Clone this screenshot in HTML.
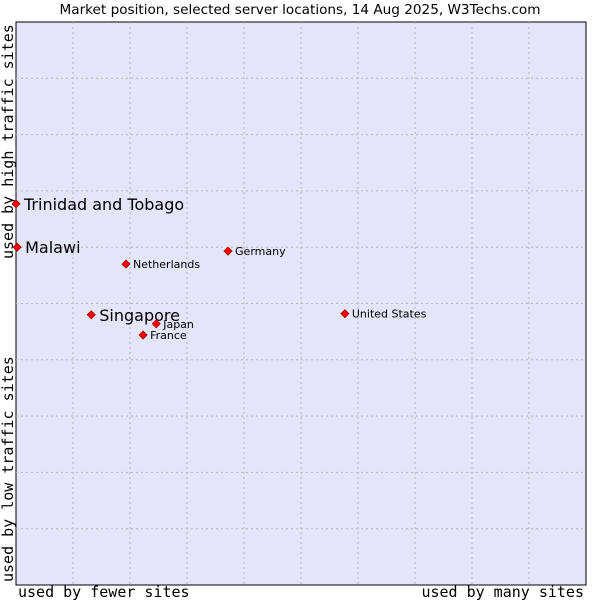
<!DOCTYPE html>
<html><head><meta charset="utf-8"><style>
body{margin:0;background:#fff;width:600px;height:600px;overflow:hidden}
svg{display:block}
</style></head><body>
<svg id="chart" width="600" height="600">
<text x="300" y="14" text-anchor="middle" font-family="DejaVu Sans, sans-serif" font-size="13.6" fill="#000">Market position, selected server locations, 14 Aug 2025, W3Techs.com</text>
<rect x="16" y="22" width="570" height="563" fill="#e3e5f8" stroke="#000" stroke-width="1"/>
<g id="grid"></g>
<text x="18" y="597" font-family="DejaVu Sans Mono, monospace" font-size="15">used by fewer sites</text>
<text x="584" y="597" text-anchor="end" font-family="DejaVu Sans Mono, monospace" font-size="15">used by many sites</text>
<text transform="translate(13,582) rotate(-90)" font-family="DejaVu Sans Mono, monospace" font-size="15">used by low traffic sites</text>
<text transform="translate(13,259) rotate(-90)" font-family="DejaVu Sans Mono, monospace" font-size="15">used by high traffic sites</text>
<g id="points"></g>
</svg>
<script>
const countries = ["Trinidad and Tobago","Malawi","Netherlands","Germany","Singapore","Japan","France","United States"];
const siteShare = [0, 0.2, 19.3, 37.2, 13.2, 24.6, 22.3, 57.7];
const trafficScore = [67.7, 60.0, 57.0, 59.3, 48.0, 46.4, 44.4, 48.2];
const highlighted = [true, true, false, false, true, false, false, false];
const NS = "http://www.w3.org/2000/svg";
const L = 16, T = 22, W = 570, H = 563;
const xs = v => L + v / 100 * W;
const ys = v => T + H - v / 100 * H;
const grid = document.getElementById('grid');
for (let i = 1; i < 10; i++) {
  const vl = document.createElementNS(NS, 'line');
  
  
  vl.setAttribute('x1', xs(i * 10)); vl.setAttribute('x2', xs(i * 10));
  vl.setAttribute('y1', T); vl.setAttribute('y2', T + H);
  vl.setAttribute('stroke', '#b8b8b8'); vl.setAttribute('stroke-dasharray', '2,3');
  grid.appendChild(vl);
  const hl = document.createElementNS(NS, 'line');
  
  
  hl.setAttribute('y1', ys(i * 10)); hl.setAttribute('y2', ys(i * 10));
  hl.setAttribute('x1', L); hl.setAttribute('x2', L + W);
  hl.setAttribute('stroke', '#b8b8b8'); hl.setAttribute('stroke-dasharray', '2,3');
  grid.appendChild(hl);
}
const pts = document.getElementById('points');
countries.forEach((c, i) => {
  const x = xs(siteShare[i]), y = ys(trafficScore[i]);
  const m = document.createElementNS(NS, 'path');
  
  
  m.setAttribute('d', `M${x} ${y-4}L${x+4} ${y}L${x} ${y+4}L${x-4} ${y}Z`);
  m.setAttribute('fill', '#ff0000'); m.setAttribute('stroke', '#a00000'); m.setAttribute('stroke-width', '0.8');
  pts.appendChild(m);
  const t = document.createElementNS(NS, 'text');
  
  
  const big = highlighted[i];
  t.setAttribute('x', x + (big ? 8 : 7));
  t.setAttribute('y', y + (big ? 6 : 4));
  t.setAttribute('font-family', 'DejaVu Sans, sans-serif');
  t.setAttribute('font-size', big ? '16' : '11');
  t.textContent = c;
  pts.appendChild(t);
});
</script>
</body></html>
